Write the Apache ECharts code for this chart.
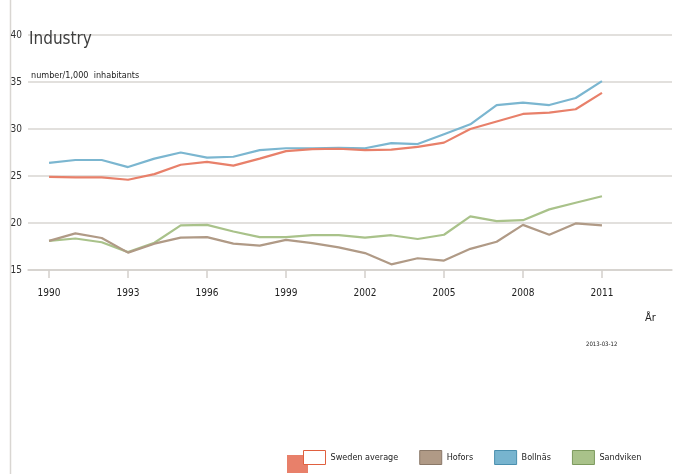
<!DOCTYPE html>
<html>
<head>
<meta charset="utf-8">
<script src="https://cdn.jsdelivr.net/npm/echarts@6/dist/echarts.min.js"></script>
<style>
html, body { margin: 0; padding: 0; background: #fff; }
#main { width: 683px; height: 474px; }
</style>
</head>
<body>
<div id="main"></div>
<script>
// years and values per municipality (number / 1,000 inhabitants)
const years = [1990, 1991, 1992, 1993, 1994, 1995, 1996, 1997, 1998, 1999, 2000,
  2001, 2002, 2003, 2004, 2005, 2006, 2007, 2008, 2009, 2010, 2011]
const yearTicks = [1990, 1993, 1996, 1999, 2002, 2005, 2008, 2011]

const swedenAverage = [24.9, 24.85, 24.85, 24.6, 25.2, 26.2, 26.5, 26.1, 26.85, 27.65, 27.85,
  27.9, 27.75, 27.8, 28.1, 28.55, 30.0, 30.8, 31.6, 31.75, 32.1, 33.85]
const hofors = [18.1, 18.9, 18.4, 16.85, 17.8, 18.45, 18.5, 17.8, 17.6, 18.2, 17.85,
  17.4, 16.8, 15.6, 16.25, 16.0, 17.25, 18.0, 19.8, 18.75, 19.95, 19.75]
const bollnas = [26.4, 26.7, 26.7, 25.95, 26.85, 27.5, 26.95, 27.05, 27.75, 27.95, 27.95,
  28.0, 27.95, 28.5, 28.4, 29.45, 30.5, 32.55, 32.8, 32.55, 33.3, 35.1]
const sandviken = [18.1, 18.35, 17.95, 16.9, 17.9, 19.75, 19.8, 19.1, 18.5, 18.5, 18.7,
  18.7, 18.45, 18.7, 18.3, 18.75, 20.7, 20.2, 20.3, 21.45, 22.15, 22.85]

const font = "'Liberation Sans Narrow', 'DejaVu Sans Condensed', 'Liberation Sans', sans-serif"

function pairs(vals) {
  return years.map((y, i) => [y, vals[i]])
}

let chart = echarts.init(document.getElementById('main'))
let option = {
  animation: false,
  textStyle: { fontFamily: font },
  title: [
    {
      text: 'Industry',
      left: 24,
      top: 26,
      textStyle: { fontSize: 17, fontWeight: 'normal', color: '#404040', fontFamily: font }
    },
    {
      text: 'number/1,000  inhabitants',
      left: 26,
      top: 66,
      textStyle: { fontSize: 9, fontWeight: 'normal', color: '#222', fontFamily: font }
    }
  ],
  grid: {
    left: 28,
    right: 11,
    top: 35,
    bottom: 204
  },
  xAxis: {
    type: 'value',
    min: 1989.2,
    max: 2013.66,
    splitLine: { show: false },
    axisLine: { show: true, lineStyle: { color: '#d4d0cc', width: 1.5 } },
    axisTick: {
      show: true,
      customValues: yearTicks,
      length: 8,
      lineStyle: { color: '#d4d0cc', width: 1.5 }
    },
    axisLabel: {
      customValues: yearTicks,
      formatter: v => String(v),
      margin: 18,
      fontSize: 10,
      color: '#222',
      fontFamily: font
    }
  },
  yAxis: {
    type: 'value',
    min: 15,
    max: 40,
    interval: 5,
    axisLine: { show: false },
    axisTick: { show: false },
    axisLabel: { margin: 6, fontSize: 10, color: '#333', fontFamily: font },
    splitLine: { lineStyle: { color: '#d9d6d2', width: 1.5 } }
  },
  legend: {
    left: 298,
    top: 445,
    itemWidth: 22,
    itemHeight: 14,
    itemGap: 21,
    icon: 'rect',
    textStyle: { fontSize: 9, color: '#222', fontFamily: font },
    data: [
      { name: 'Sweden average', itemStyle: { color: '#ffffff', borderColor: '#E0603F', borderWidth: 1 } },
      { name: 'Hofors', itemStyle: { color: '#B09A86', borderColor: '#8a7868', borderWidth: 1 } },
      { name: 'Bollnäs', itemStyle: { color: '#77B4CF', borderColor: '#4a8fae', borderWidth: 1 } },
      { name: 'Sandviken', itemStyle: { color: '#A9C28A', borderColor: '#7d9a5e', borderWidth: 1 } }
    ]
  },
  graphic: [
    {
      type: 'line',
      shape: { x1: 10.5, y1: 0, x2: 10.5, y2: 474 },
      style: { stroke: '#d9d6d2', lineWidth: 1.5 }
    },
    {
      type: 'rect',
      shape: { x: 287, y: 455, width: 21, height: 18 },
      style: { fill: '#E8806A' }
    },
    {
      type: 'text',
      left: 645,
      top: 313,
      style: { text: 'År', fontSize: 11, fill: '#222', fontFamily: font }
    },
    {
      type: 'text',
      left: 586,
      top: 341,
      style: { text: '2013-03-12', fontSize: 6, fill: '#222', fontFamily: font }
    }
  ],
  series: [
    {
      name: 'Sweden average',
      type: 'line',
      data: pairs(swedenAverage),
      showSymbol: false,
      lineStyle: { color: '#E8806A', width: 2.2 },
      itemStyle: { color: '#E8806A' },
      z: 4
    },
    {
      name: 'Hofors',
      type: 'line',
      data: pairs(hofors),
      showSymbol: false,
      lineStyle: { color: '#B09A86', width: 2.2 },
      itemStyle: { color: '#B09A86' },
      z: 2
    },
    {
      name: 'Bollnäs',
      type: 'line',
      data: pairs(bollnas),
      showSymbol: false,
      lineStyle: { color: '#7BB6D0', width: 2.2 },
      itemStyle: { color: '#7BB6D0' },
      z: 3
    },
    {
      name: 'Sandviken',
      type: 'line',
      data: pairs(sandviken),
      showSymbol: false,
      lineStyle: { color: '#A9C28A', width: 2.2 },
      itemStyle: { color: '#A9C28A' },
      z: 1
    }
  ]
}
chart.setOption(option)
</script>
</body>
</html>
